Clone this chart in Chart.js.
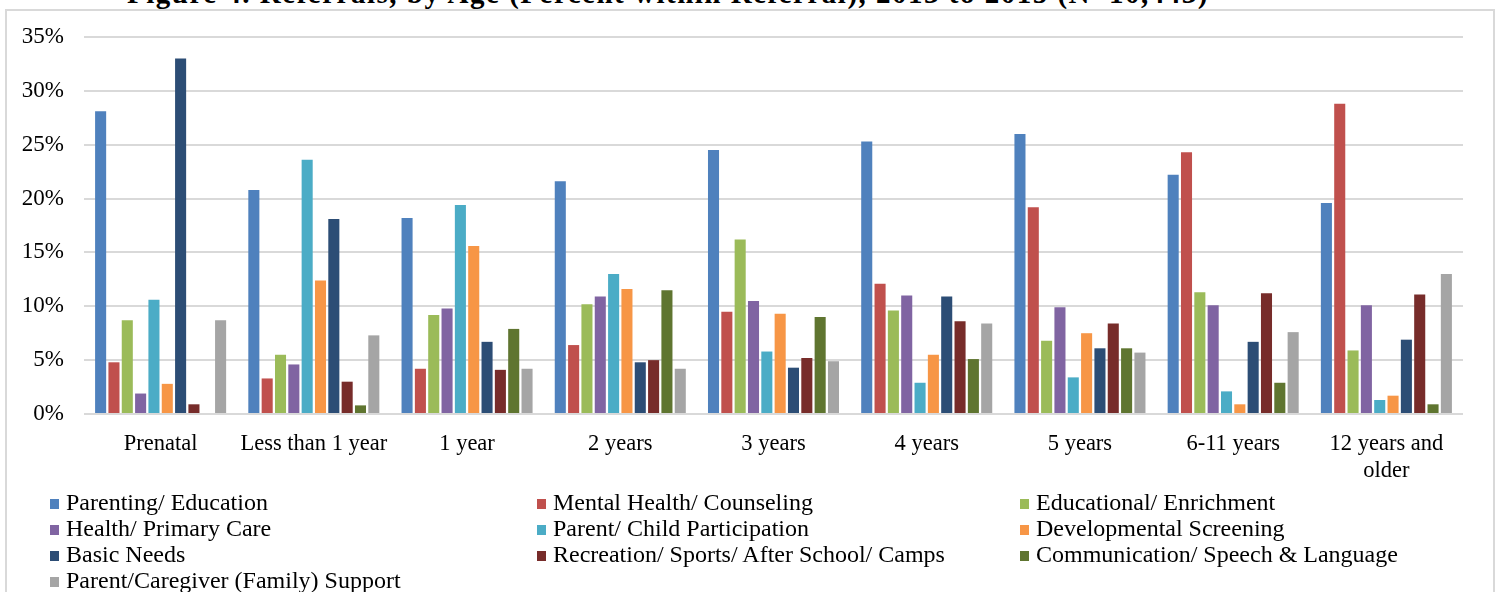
<!DOCTYPE html>
<html>
<head>
<meta charset="utf-8">
<script src="https://cdn.jsdelivr.net/npm/chart.js@4.4.1/dist/chart.umd.min.js"></script>
<style>
  html, body { margin: 0; padding: 0; background: #fff; }
  body { width: 1496px; height: 592px; position: relative; overflow: hidden; font-family: "Liberation Serif", "DejaVu Serif", serif; }
  #title { position: absolute; left: 127px; top: -21px; font-size: 29px; letter-spacing: 1.5px; font-weight: bold; white-space: nowrap; color: #000; line-height: 29px; }
  #frame { position: absolute; left: 5px; top: 9px; width: 1486px; height: 600px; border: 2px solid #d9d9d9; }
  #wrap { position: absolute; left: 0; top: 0; width: 1496px; height: 592px; }
  #legend { position: absolute; left: 0; top: 489px; width: 1496px; font-size: 24px; color: #000; }
  .item { position: absolute; height: 26px; line-height: 26px; white-space: nowrap; }
  .box { display: inline-block; width: 9px; height: 10px; margin-right: 7px; vertical-align: 1px; }
</style>
</head>
<body>
<div id="title">Figure 4. Referrals, by Age (Percent within Referral), 2013 to 2015 (N=10,443)</div>
<div id="frame"></div>
<div id="wrap"><canvas id="myChart" width="1496" height="592"></canvas></div>
<div id="legend"></div>
<script>
// categories
const ageGroups = ['Prenatal', 'Less than 1 year', '1 year', '2 years', '3 years', '4 years', '5 years', '6-11 years', ['12 years and', 'older']];

// percent within referral, one array per referral type
const parentingEducation = [28.1, 20.8, 18.2, 21.6, 24.5, 25.3, 26.0, 22.2, 19.6];
const mentalHealth = [4.8, 3.3, 4.2, 6.4, 9.5, 12.1, 19.2, 24.3, 28.8];
const educationalEnrichment = [8.7, 5.5, 9.2, 10.2, 16.2, 9.6, 6.8, 11.3, 5.9];
const healthPrimaryCare = [1.9, 4.6, 9.8, 10.9, 10.5, 11.0, 9.9, 10.1, 10.1];
const parentChild = [10.6, 23.6, 19.4, 13.0, 5.8, 2.9, 3.4, 2.1, 1.3];
const developmentalScreening = [2.8, 12.4, 15.6, 11.6, 9.3, 5.5, 7.5, 0.9, 1.7];
const basicNeeds = [33.0, 18.1, 6.7, 4.8, 4.3, 10.9, 6.1, 6.7, 6.9];
const recreation = [0.9, 3.0, 4.1, 5.0, 5.2, 8.6, 8.4, 11.2, 11.1];
const communication = [0, 0.8, 7.9, 11.5, 9.0, 5.1, 6.1, 2.9, 0.9];
const familySupport = [8.7, 7.3, 4.2, 4.2, 4.9, 8.4, 5.7, 7.6, 13.0];

const seriesNames = ['Parenting/ Education', 'Mental Health/ Counseling', 'Educational/ Enrichment',
  'Health/ Primary Care', 'Parent/ Child Participation', 'Developmental Screening',
  'Basic Needs', 'Recreation/ Sports/ After School/ Camps', 'Communication/ Speech & Language',
  'Parent/Caregiver (Family) Support'];
const seriesValues = [parentingEducation, mentalHealth, educationalEnrichment, healthPrimaryCare,
  parentChild, developmentalScreening, basicNeeds, recreation, communication, familySupport];

// y axis ticks
const yTicks = [0, 5, 10, 15, 20, 25, 30, 35];

const colors = ['#4F81BD', '#C0504D', '#9BBB59', '#8064A2', '#4BACC6', '#F79646', '#2C4D75', '#772C2A', '#5F7530', '#A5A5A5'];

const datasets = seriesNames.map((name, i) => ({
  label: name,
  data: seriesValues[i],
  backgroundColor: colors[i],
  borderWidth: 0,
  categoryPercentage: 0.87,
  barPercentage: 0.83
}));

const ctx = document.getElementById('myChart').getContext('2d');
new Chart(ctx, {
  type: 'bar',
  data: { labels: ageGroups, datasets: datasets },
  options: {
    responsive: false,
    animation: false,
    layout: { padding: { top: 37, right: 33, bottom: 108, left: 0 } },
    plugins: { legend: { display: false }, tooltip: { enabled: false } },
    scales: {
      x: {
        grid: { display: false, drawTicks: false },
        border: { display: false },
        ticks: { font: { family: 'Liberation Serif', size: 22.5 }, color: '#000', padding: 17, maxRotation: 0, autoSkip: false },
        afterFit: (scale) => { scale.height = 70; }
      },
      y: {
        min: yTicks[0],
        max: yTicks[yTicks.length - 1],
        afterBuildTicks: (scale) => { scale.ticks = yTicks.map(v => ({ value: v })); },
        grid: { color: '#d9d9d9', lineWidth: 2, drawTicks: false },
        border: { display: false },
        ticks: { font: { family: 'Liberation Serif', size: 23 }, color: '#000', padding: 20, callback: v => v + '%' },
        afterFit: (scale) => { scale.width = 84; }
      }
    }
  }
});

// legend, three columns like the original
const colX = [50, 537, 1020];
const legend = document.getElementById('legend');
seriesNames.forEach((name, i) => {
  const item = document.createElement('div');
  item.className = 'item';
  item.style.left = colX[i % 3] + 'px';
  item.style.top = (Math.floor(i / 3) * 26) + 'px';
  const box = document.createElement('span');
  box.className = 'box';
  box.style.background = colors[i];
  item.appendChild(box);
  item.appendChild(document.createTextNode(name));
  legend.appendChild(item);
});
</script>
</body>
</html>
